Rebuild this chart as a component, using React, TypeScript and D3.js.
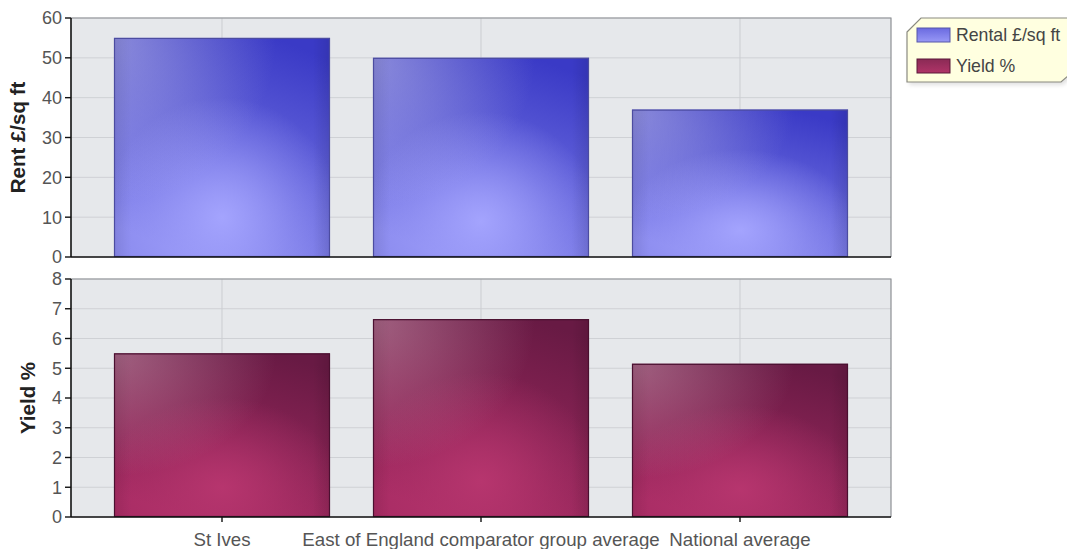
import React from "react";
import * as d3 from "d3";

// Categories and values for the two stacked panels
const categories = ["St Ives", "East of England comparator group average", "National average"];
const rentValues = [55, 50, 37];
const yieldValues = [5.5, 6.65, 5.15];
const rentTicks = [0, 10, 20, 30, 40, 50, 60];
const yieldTicks = [0, 1, 2, 3, 4, 5, 6, 7, 8];
const seriesNames = ["Rental £/sq ft", "Yield %"];

const W = 1067;
const H = 549;
const plotLeft = 71;
const plotRight = 891;
const font = "'Liberation Sans', Arial, sans-serif";

const x = d3
  .scaleBand<string>()
  .domain(categories)
  .range([92.5, 869.5])
  .paddingInner(0.166)
  .paddingOuter(0.083);

const yRent = d3.scaleLinear().domain([0, 60]).range([257, 18]);
const yYield = d3.scaleLinear().domain([0, 8]).range([517, 279]);

type PanelProps = {
  y: d3.ScaleLinear<number, number>;
  ticks: number[];
  values: number[];
  prefix: string;
  stroke: string;
  title: string;
  titleX: number;
  showXAxis: boolean;
};

function Panel({ y, ticks, values, prefix, stroke, title, titleX, showXAxis }: PanelProps) {
  const [y0, y1] = y.range();
  const bw = x.bandwidth();
  return (
    <g>
      <rect x={plotLeft} y={y1} width={plotRight - plotLeft} height={y0 - y1} fill="#e6e8eb" />
      {ticks.map((t) => (
        <line key={"h" + t} x1={plotLeft} x2={plotRight} y1={y(t)} y2={y(t)} stroke="#cfd1d5" strokeWidth={1} />
      ))}
      {categories.map((c) => {
        const cx = (x(c) as number) + bw / 2;
        return <line key={"v" + c} x1={cx} x2={cx} y1={y1} y2={y0} stroke="#cbcdd1" strokeWidth={1} />;
      })}
      {/* border on top and right */}
      <polyline
        points={`${plotLeft},${y1} ${plotRight},${y1} ${plotRight},${y0}`}
        fill="none"
        stroke="#8e9094"
        strokeWidth={1.2}
      />
      {values.map((v, i) => {
        const bx = x(categories[i]) as number;
        const by = y(v);
        const bh = y(0) - by;
        return (
          <g key={"b" + i}>
            <rect x={bx} y={by} width={bw} height={bh} fill={`url(#${prefix}-base)`} />
            <rect x={bx} y={by} width={bw} height={bh} fill={`url(#${prefix}-glow)`} />
            <rect x={bx} y={by} width={bw} height={bh} fill={`url(#${prefix}-sheen)`} />
            <rect x={bx} y={by} width={bw} height={bh} fill={`url(#${prefix}-edge)`} />
            <rect x={bx + 0.5} y={by + 0.5} width={bw - 1} height={bh - 1} fill="none" stroke={stroke} strokeWidth={1.2} />
          </g>
        );
      })}
      {/* left axis */}
      <line x1={plotLeft} x2={plotLeft} y1={y1} y2={y0} stroke="#111" strokeWidth={1.6} />
      {ticks.map((t) => (
        <g key={"t" + t}>
          <line x1={plotLeft - 6} x2={plotLeft} y1={y(t)} y2={y(t)} stroke="#111" strokeWidth={1.4} />
          <text
            x={plotLeft - 9}
            y={y(t)}
            dy="0.36em"
            textAnchor="end"
            fontFamily={font}
            fontSize={18}
            fill="#555"
          >
            {t}
          </text>
        </g>
      ))}
      {/* bottom axis */}
      <line x1={plotLeft} x2={plotRight} y1={y0} y2={y0} stroke="#111" strokeWidth={1.6} />
      {showXAxis &&
        categories.map((c) => {
          const cx = (x(c) as number) + bw / 2;
          return (
            <g key={"x" + c}>
              <line x1={cx} x2={cx} y1={y0} y2={y0 + 5} stroke="#111" strokeWidth={1.4} />
              <text x={cx} y={y0 + 29} textAnchor="middle" fontFamily={font} fontSize={18.7} fill="#555">
                {c}
              </text>
            </g>
          );
        })}
      <text
        transform={`translate(${titleX},${(y0 + y1) / 2}) rotate(-90)`}
        textAnchor="middle"
        dy="0.36em"
        fontFamily={font}
        fontWeight="bold"
        fontSize={20.5}
        fill="#222"
      >
        {title}
      </text>
    </g>
  );
}

function BarGradients({
  id,
  top,
  bottom,
  glow,
  sheen,
}: {
  id: string;
  top: string;
  bottom: string;
  glow: string;
  sheen: string;
}) {
  return (
    <>
      <linearGradient id={`${id}-base`} x1="0.75" y1="0" x2="0.35" y2="1">
        <stop offset="0" stopColor={top} />
        <stop offset="1" stopColor={bottom} />
      </linearGradient>
      <radialGradient id={`${id}-glow`} cx="0.5" cy="0.82" r="0.55" fx="0.5" fy="0.82">
        <stop offset="0" stopColor={glow} stopOpacity={0.95} />
        <stop offset="0.6" stopColor={glow} stopOpacity={0.35} />
        <stop offset="1" stopColor={glow} stopOpacity={0} />
      </radialGradient>
      <radialGradient id={`${id}-sheen`} cx="0" cy="0" r="0.75">
        <stop offset="0" stopColor={sheen} stopOpacity={0.5} />
        <stop offset="1" stopColor={sheen} stopOpacity={0} />
      </radialGradient>
      <linearGradient id={`${id}-edge`} x1="0" y1="0" x2="1" y2="0">
        <stop offset="0" stopColor="#000" stopOpacity={0.08} />
        <stop offset="0.08" stopColor="#000" stopOpacity={0} />
        <stop offset="0.92" stopColor="#000" stopOpacity={0} />
        <stop offset="1" stopColor="#000" stopOpacity={0.1} />
      </linearGradient>
    </>
  );
}

function Legend() {
  const lx = 907;
  const ly = 18;
  const lb = 82;
  const shape = `${lx},${ly + 14} ${lx + 14},${ly} ${W + 10},${ly} ${W + 10},${lb - 14} ${W - 6},${lb} ${lx},${lb}`;
  const swatches = [
    { y: 28, id: "blue" },
    { y: 59, id: "plum" },
  ];
  return (
    <g>
      <polygon points={shape} fill="#000" opacity={0.12} transform="translate(2,3)" filter="url(#legendBlur)" />
      <polygon points={shape} fill="#ffffe0" stroke="#8a8a80" strokeWidth={1.2} />
      {seriesNames.map((name, i) => (
        <g key={name}>
          <rect x={917} y={swatches[i].y} width={33} height={14} fill={`url(#${swatches[i].id}-legend)`} stroke={i === 0 ? "#5656a8" : "#5a1838"} strokeWidth={1} />
          <text x={956} y={swatches[i].y + 7} dy="0.36em" fontFamily={font} fontSize={17.7} fill="#444">
            {name}
          </text>
        </g>
      ))}
    </g>
  );
}

export default function App() {
  return (
    <svg
      width={W}
      height={H}
      viewBox={`0 0 ${W} ${H}`}
      style={{ position: "absolute", left: 0, top: 0, background: "#fff" }}
    >
      <defs>
        <BarGradients id="blue" top="#3a3ac6" bottom="#8a8aee" glow="#a6a6ff" sheen="#c4c4e4" />
        <BarGradients id="plum" top="#681a44" bottom="#a82c64" glow="#b8366f" sheen="#c8a2b4" />
        <linearGradient id="blue-legend" x1="0" y1="0" x2="0" y2="1">
          <stop offset="0" stopColor="#6a6ae0" />
          <stop offset="1" stopColor="#9898f6" />
        </linearGradient>
        <linearGradient id="plum-legend" x1="0" y1="0" x2="0" y2="1">
          <stop offset="0" stopColor="#8a2a55" />
          <stop offset="1" stopColor="#b03468" />
        </linearGradient>
        <filter id="legendBlur" x="-10%" y="-20%" width="120%" height="150%">
          <feGaussianBlur stdDeviation="2" />
        </filter>
      </defs>
      <Panel
        y={yRent}
        ticks={rentTicks}
        values={rentValues}
        prefix="blue"
        stroke="#4c4ca0"
        title="Rent £/sq ft"
        titleX={18}
        showXAxis={false}
      />
      <Panel
        y={yYield}
        ticks={yieldTicks}
        values={yieldValues}
        prefix="plum"
        stroke="#4a1030"
        title="Yield %"
        titleX={28}
        showXAxis={true}
      />
      <Legend />
    </svg>
  );
}
